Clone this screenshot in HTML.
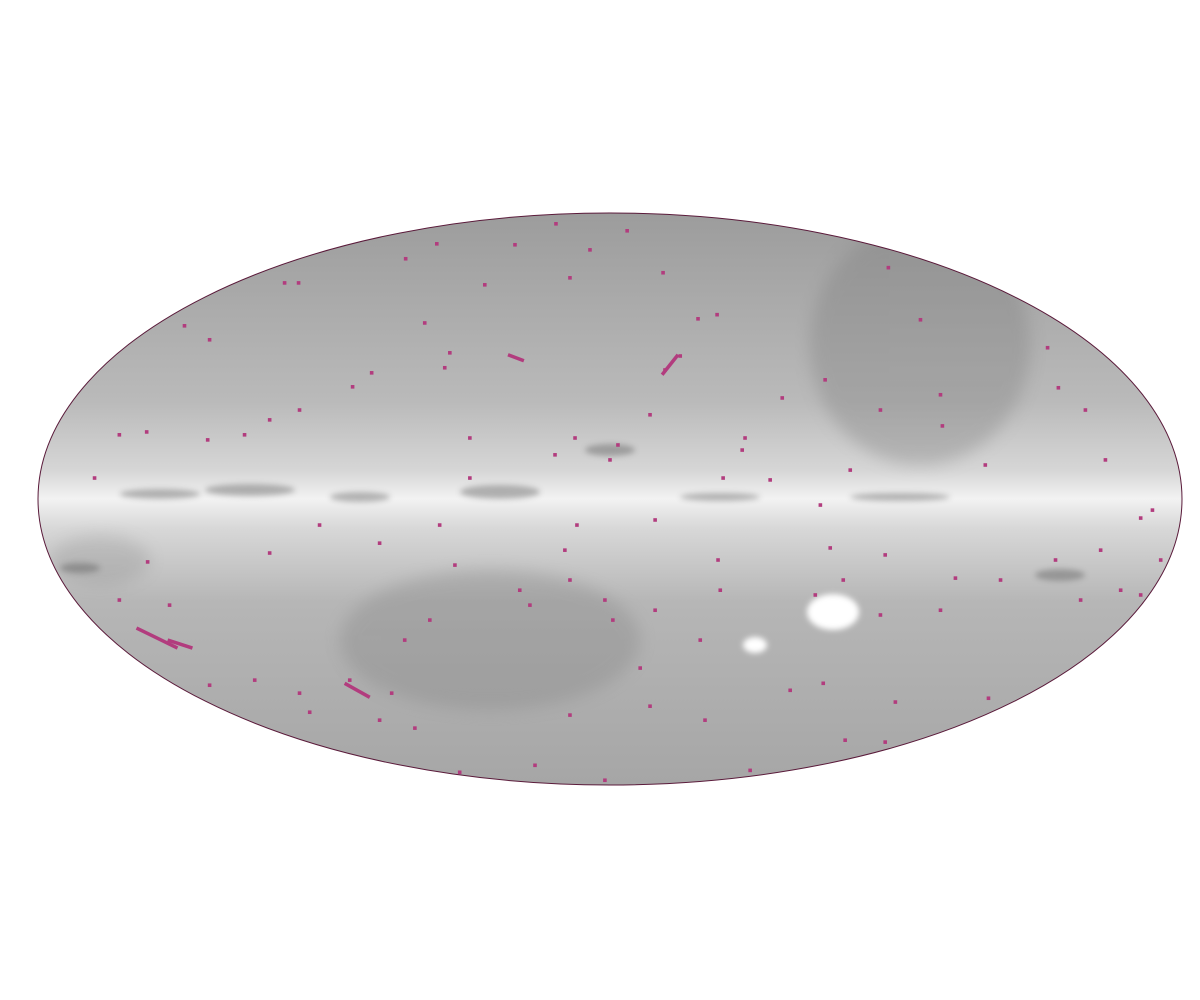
<!DOCTYPE html>
<html><head><meta charset="utf-8"><style>
html,body{margin:0;padding:0;background:#fff;width:1200px;height:1000px;overflow:hidden;font-family:"Liberation Sans",sans-serif}
</style></head><body>
<svg id="sky" width="1200" height="1000" viewBox="0 0 1200 1000" xmlns="http://www.w3.org/2000/svg">
<defs>
<clipPath id="clip"><ellipse cx="610" cy="499" rx="572" ry="286"/></clipPath>
<linearGradient id="bg" x1="0" y1="213" x2="0" y2="785" gradientUnits="userSpaceOnUse">
<stop offset="0" stop-color="#9c9c9c"/>
<stop offset="0.33" stop-color="#bababa"/>
<stop offset="0.45" stop-color="#d6d6d6"/>
<stop offset="0.5" stop-color="#f2f2f2"/>
<stop offset="0.55" stop-color="#d8d8d8"/>
<stop offset="0.68" stop-color="#b6b6b6"/>
<stop offset="1" stop-color="#a6a6a6"/>
</linearGradient>
<filter id="blur8" x="-100%" y="-100%" width="300%" height="300%"><feGaussianBlur stdDeviation="8"/></filter>
<filter id="blur3" x="-100%" y="-100%" width="300%" height="300%"><feGaussianBlur stdDeviation="3"/></filter>
</defs>
<g clip-path="url(#clip)">
<rect x="0" y="200" width="1200" height="600" fill="url(#bg)"/>
<ellipse cx="920" cy="345" rx="110" ry="120" fill="#7e7e7e" opacity="0.35" filter="url(#blur8)"/>
<ellipse cx="490" cy="640" rx="150" ry="70" fill="#7e7e7e" opacity="0.3" filter="url(#blur8)"/>
<ellipse cx="100" cy="560" rx="50" ry="25" fill="#707070" opacity="0.2" filter="url(#blur8)"/>
<g fill="#555" opacity="0.4" filter="url(#blur3)">
<ellipse cx="160" cy="494" rx="40" ry="5"/><ellipse cx="250" cy="490" rx="45" ry="6"/>
<ellipse cx="360" cy="497" rx="30" ry="5"/><ellipse cx="500" cy="492" rx="40" ry="7"/>
<ellipse cx="610" cy="450" rx="25" ry="6"/><ellipse cx="720" cy="497" rx="40" ry="4"/>
<ellipse cx="900" cy="497" rx="50" ry="4"/><ellipse cx="1060" cy="575" rx="25" ry="6"/>
<ellipse cx="80" cy="568" rx="20" ry="5"/>
</g>
<ellipse cx="833" cy="612" rx="26" ry="18" fill="#fff" filter="url(#blur3)"/>
<ellipse cx="755" cy="645" rx="12" ry="8" fill="#fff" filter="url(#blur3)"/>
</g>
<ellipse cx="610" cy="499" rx="572" ry="286" fill="none" stroke="#5a1a3a" stroke-width="1"/>
<g id="marks"></g>
</svg>
<script>
const lonVals=[5.4,-17.0,-54.5,-102.4,-98.0,-133.9,-126.0,-75.0,-81.0,-50.4,-52.0,-39.4,-58.3,-29.9,-12.6,-64.3,-6.3,16.7,33.7,27.7,17.3,22.1,42.5,41.6,54.2,67.7,87.6,97.7,104.0,104.6,118.1,137.7,141.1,149.6,155.9,167.0,170.7,154.4,140.2,148.1,167.0,108.7,104.0,86.6,75.6,85.1,73.4,64.6,34.0,34.7,28.4,9.5,0.9,-1.6,-12.6,-25.2,-28.4,-48.8,-56.7,-64.6,-68.7,-81.9,-97.7,-94.5,-111.8,-126.0,-138.6,-145.5,-154.4,-162.2,-154.4,-145.8,-126.6,-115.0,-107.1,-97.7,-72.5,-53.6,-91.4,-107.1,-44.1,-44.1,-17.3,-11.0,2.5,0,12.6,-10.4,-14.2,14.2,35.6,50.4,66.2,69.3,85.1,89.8,86.6,74.0,44.1,29.9,12.6,-1.6,-23.6,-47.3,-61.4,-72.5,-12.6,14.2,56.7,67.1,119.1,122.9,160.7,173.3];
const latVals=[84.4,86.6,80.3,68.0,68.0,54.5,50.1,39.7,35.3,46.0,41.3,67.4,55.4,80.0,69.6,75.6,78.4,71.2,58.0,56.7,40.6,45.0,19.2,15.4,31.8,37.5,72.8,56.4,32.8,23.0,10.7,47.6,35.0,28.0,12.3,-6.0,-3.5,-16.1,-19.2,-31.8,-30.2,-24.9,-35.0,-17.6,9.1,28.0,-25.5,-30.2,-19.2,-28.7,-44.4,-53.2,-38.1,-31.8,-25.5,-33.4,-28.7,-20.8,-38.1,-44.4,-61.1,-57.0,-61.1,-67.1,-57.0,-58.6,-33.4,-19.8,-31.8,6.6,20.2,21.1,18.6,20.2,24.9,28.0,-13.9,-8.2,-8.2,-17.0,6.6,19.2,13.9,19.2,17.0,12.3,26.5,-8.2,-16.1,-6.6,6.6,6.0,-1.9,-15.4,-36.5,-63.9,-76.5,-75.9,-85.4,-69.6,-65.2,-88.5,-83.8,-86.0,-72.1,-69.6,-68.0,-35.0,-60.2,-58.0,-62.7,-25.5,-28.7,-19.2];
const streakLon1=[-149.0,-139.2,-83.5,-32.1,16.4];
const streakLat1=[-40.6,-44.4,-58.0,45.4,39.1];
const streakLon2=[-136.1,-131.4,-75.6,-27.1,21.4];
const streakLat2=[-46.9,-46.9,-62.4,43.5,45.4];
const CX=610,CY=499,RX=572,RY=286;
function xScale(v){return CX+v/180*RX;}
function yScale(v){return CY-v/90*RY;}
const NS="http://www.w3.org/2000/svg";
const g=document.getElementById('marks');
for(let i=0;i<lonVals.length;i++){
  const c=document.createElementNS(NS,'rect');
  c.setAttribute('x',xScale(lonVals[i])-1.8);
  c.setAttribute('y',yScale(latVals[i])-1.8);
  c.setAttribute('width',3.6);c.setAttribute('height',3.6);
  c.setAttribute('fill','#b23c7e');
  
  
  g.appendChild(c);
}
for(let i=0;i<streakLon1.length;i++){
  const l=document.createElementNS(NS,'line');
  l.setAttribute('x1',xScale(streakLon1[i]));l.setAttribute('y1',yScale(streakLat1[i]));
  l.setAttribute('x2',xScale(streakLon2[i]));l.setAttribute('y2',yScale(streakLat2[i]));
  l.setAttribute('stroke','#b23c7e');l.setAttribute('stroke-width','3.5');
  
  
  g.appendChild(l);
}
</script>
</body></html>
